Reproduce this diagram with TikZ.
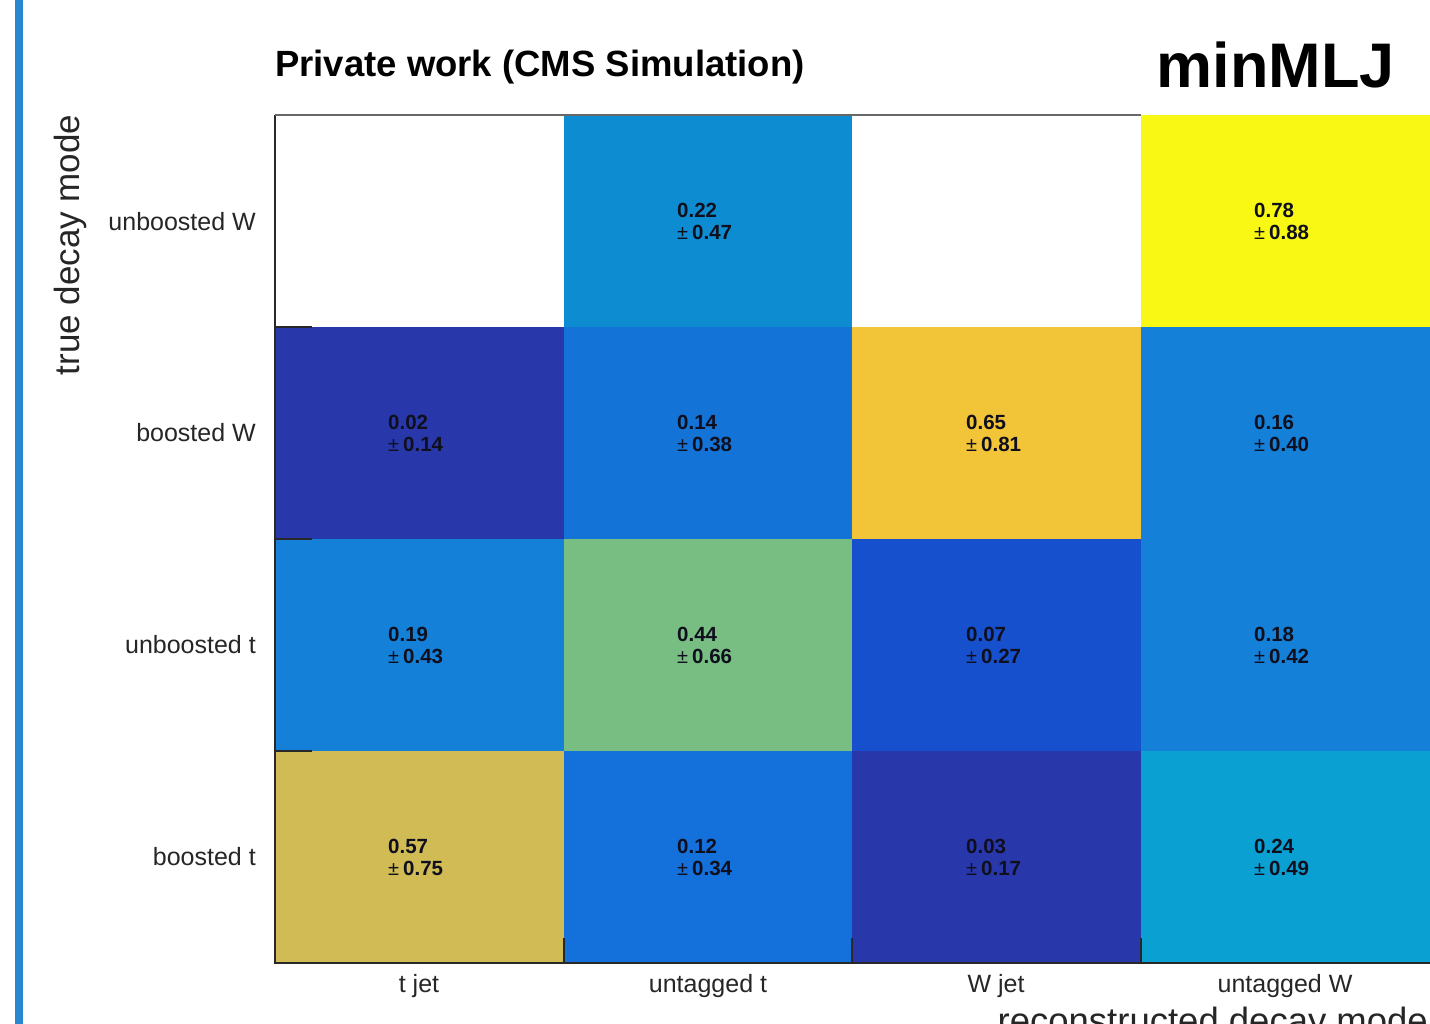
\documentclass[tikz,border=0pt]{standalone}
\usepackage{fontspec}
\setmainfont{Liberation Sans}
\definecolor{barblue}{RGB}{40,135,205}
\definecolor{cA}{RGB}{14,140,210}
\definecolor{cB}{RGB}{248,248,20}
\definecolor{cC}{RGB}{40,56,170}
\definecolor{cD}{RGB}{20,115,215}
\definecolor{cE}{RGB}{242,196,56}
\definecolor{cF}{RGB}{20,128,215}
\definecolor{cG}{RGB}{120,190,130}
\definecolor{cH}{RGB}{22,80,205}
\definecolor{cI}{RGB}{208,187,85}
\definecolor{cJ}{RGB}{20,112,218}
\definecolor{cK}{RGB}{10,160,210}
\definecolor{txt}{RGB}{15,15,30}
\definecolor{axisc}{RGB}{40,40,40}
\tikzset{
  cellbox/.style={draw=none,inner sep=0pt,anchor=north west,minimum height=212pt},
  celltxt/.style={anchor=west,align=left,inner sep=0pt,text=txt,font=\fontsize{20.5}{22}\selectfont\bfseries},
  ylab/.style={anchor=east,inner sep=0pt,font=\fontsize{25}{25}\selectfont,text=black!85},
  xlab/.style={anchor=center,inner sep=0pt,font=\fontsize{25}{25}\selectfont,text=black!85},
  axisline/.style={draw=axisc,line width=1.6pt},
  tickline/.style={draw=axisc,line width=1.6pt}
}
\newcommand{\cellval}[2]{#1\\{\fontseries{m}\selectfont\fontsize{20}{22}\selectfont ±}\kern4pt#2}
\begin{document}
\begin{tikzpicture}[x=1pt,y=-1pt]
\useasboundingbox (0,0) rectangle (1430,1024);
\fill[white] (0,0) rectangle (1430,1024);
% left blue bar
\fill[barblue] (15,0) rectangle (23,1024);
% cells
\node[cellbox,minimum width=289pt,fill=white] (c11) at (275,115) {};
\node[cellbox,minimum width=288pt,fill=cA] (c12) at (564,115) {};
\node[cellbox,minimum width=289pt,fill=white] (c13) at (852,115) {};
\node[cellbox,minimum width=289pt,fill=cB] (c14) at (1141,115) {};
\node[cellbox,minimum width=289pt,fill=cC] (c21) at (275,327) {};
\node[cellbox,minimum width=288pt,fill=cD] (c22) at (564,327) {};
\node[cellbox,minimum width=289pt,fill=cE] (c23) at (852,327) {};
\node[cellbox,minimum width=289pt,fill=cF] (c24) at (1141,327) {};
\node[cellbox,minimum width=289pt,fill=cF] (c31) at (275,539) {};
\node[cellbox,minimum width=288pt,fill=cG] (c32) at (564,539) {};
\node[cellbox,minimum width=289pt,fill=cH] (c33) at (852,539) {};
\node[cellbox,minimum width=289pt,fill=cF] (c34) at (1141,539) {};
\node[cellbox,minimum width=289pt,fill=cI] (c41) at (275,751) {};
\node[cellbox,minimum width=288pt,fill=cJ] (c42) at (564,751) {};
\node[cellbox,minimum width=289pt,fill=cC] (c43) at (852,751) {};
\node[cellbox,minimum width=289pt,fill=cK] (c44) at (1141,751) {};
% axes
\draw[axisline] (275,115) -- (275,963) -- (1430,963);
\draw[draw=axisc!70,line width=1.2pt] (275,115) -- (1141,115);
\foreach \yy in {327,539,751} \draw[tickline] (275,\yy) -- (312,\yy);
\foreach \xx in {564,852,1141} \draw[tickline] (\xx,963) -- (\xx,938);
% values
\node[celltxt] (v12) at (677,221) {\cellval{0.22}{0.47}};
\node[celltxt] (v14) at (1254,221) {\cellval{0.78}{0.88}};
\node[celltxt] (v21) at (388,433) {\cellval{0.02}{0.14}};
\node[celltxt] (v22) at (677,433) {\cellval{0.14}{0.38}};
\node[celltxt] (v23) at (966,433) {\cellval{0.65}{0.81}};
\node[celltxt] (v24) at (1254,433) {\cellval{0.16}{0.40}};
\node[celltxt] (v31) at (388,645) {\cellval{0.19}{0.43}};
\node[celltxt] (v32) at (677,645) {\cellval{0.44}{0.66}};
\node[celltxt] (v33) at (966,645) {\cellval{0.07}{0.27}};
\node[celltxt] (v34) at (1254,645) {\cellval{0.18}{0.42}};
\node[celltxt] (v41) at (388,857) {\cellval{0.57}{0.75}};
\node[celltxt] (v42) at (677,857) {\cellval{0.12}{0.34}};
\node[celltxt] (v43) at (966,857) {\cellval{0.03}{0.17}};
\node[celltxt] (v44) at (1254,857) {\cellval{0.24}{0.49}};
% y tick labels
\node[ylab] (yl1) at (256,222) {unboosted W};
\node[ylab] (yl2) at (256,433) {boosted W};
\node[ylab] (yl3) at (256,645) {unboosted t};
\node[ylab] (yl4) at (256,857) {boosted t};
% x tick labels
\node[xlab] (xl1) at (419,986) {t jet};
\node[xlab] (xl2) at (708,986) {untagged t};
\node[xlab] (xl3) at (996,986) {W jet};
\node[xlab] (xl4) at (1285,986) {untagged W};
% axis titles
\node[rotate=90,anchor=center,inner sep=0pt,font=\fontsize{35}{35}\selectfont,text=black!85] (ytitle) at (70,245) {true decay mode};
\node[anchor=base east,inner sep=0pt,font=\fontsize{36.5}{36.5}\selectfont,text=black!85] (xtitle) at (1428,1033) {reconstructed decay mode};
% titles
\node[anchor=west,inner sep=0pt,font=\fontsize{36.5}{36.5}\selectfont\bfseries] (title) at (275,67) {Private work (CMS Simulation)};
\node[anchor=east,inner sep=0pt,font=\fontsize{63}{63}\selectfont\bfseries] (tag) at (1395,65) {minMLJ};
\end{tikzpicture}
\end{document}
